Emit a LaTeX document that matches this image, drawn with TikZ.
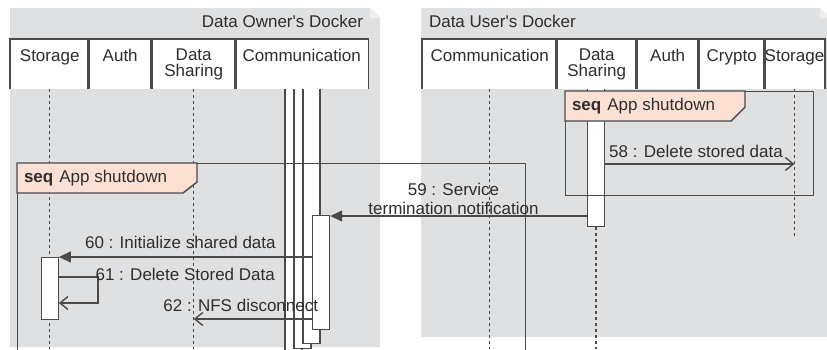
\documentclass[tikz,border=0pt]{standalone}
\usepackage{fontspec}
\setmainfont{Liberation Sans}[Ligatures=TeXOff]
\usetikzlibrary{arrows.meta}
\definecolor{dockgray}{HTML}{DFE0E2}
\definecolor{foldgray}{HTML}{EEEEEA}
\definecolor{linegray}{HTML}{4A4A4A}
\definecolor{textgray}{HTML}{2E2E2E}
\definecolor{seqpink}{HTML}{FCE0D4}
\begin{document}
\begin{tikzpicture}[x=1pt, y=-1pt, line width=1.4pt,
    every node/.style={font=\fontsize{17}{19}\selectfont, text=textgray},
    head/.style={fill=white, anchor=north west, inner sep=0pt, minimum height=49pt,
      text height=22pt, text depth=27pt, align=center, font=\fontsize{17}{16}\selectfont},
    head2/.style={head, text height=37pt, text depth=12pt},
    bar/.style={draw=linegray, fill=white, anchor=north, inner sep=0pt, minimum width=17pt},
    lifeline/.style={draw=linegray, dash pattern=on 3pt off 3pt},
    seqframe/.style={draw=linegray, anchor=north west, inner sep=0pt},
    tab/.style={draw=linegray, fill=seqpink},
    sync/.style={draw=linegray, -{Triangle[length=12pt,width=11pt]}},
    reply/.style={draw=linegray, -{Straight Barb[length=8pt,width=13pt]}}]
  \useasboundingbox (0,0) rectangle (827,349);
  \clip (0,0) rectangle (827,349);
  % the two dockers
  \fill[dockgray] (10,8) -- (370,8) -- (380,18) -- (380,347) -- (10,347) -- cycle;
  \fill[foldgray] (370,8) -- (380,18) -- (370,18) -- cycle;
  \fill[dockgray] (421,8) -- (820,8) -- (830,18) -- (830,337) -- (421,337) -- cycle;
  \fill[foldgray] (820,8) -- (830,18) -- (820,18) -- cycle;
  \node[anchor=east] (otitle) at (367,21) {Data Owner's Docker};
  \node[anchor=west] (rtitle) at (425,21) {Data User's Docker};
  % activation bars that start above the heads
  \node[bar, minimum height=300pt] (ocb1) at (293.5,70) {};
  \node[bar, minimum height=278pt] (ocb2) at (302.5,70) {};
  \node[bar, minimum height=273pt] (ocb3) at (311.5,70) {};
  \node[bar, minimum height=156pt] (rsb) at (596,70) {};
  % lifeline heads
  \node[head, minimum width=78pt] (ostor) at (10,39) {Storage};
  \node[head, minimum width=63pt] (oauth) at (88,39) {Auth};
  \node[head2, minimum width=84pt] (oshare) at (151,39) {Data\\Sharing};
  \node[head, minimum width=132pt] (ocomm) at (235,39) {Communication};
  \node[head, minimum width=134pt] (rcomm) at (422,39) {Communication};
  \node[head2, minimum width=80pt] (rshare) at (556,39) {Data\\Sharing};
  \node[head, minimum width=62pt] (rauth) at (636,39) {Auth};
  \node[head, minimum width=66pt] (rcrypt) at (698,39) {Crypto};
  \node[head, minimum width=59pt] (rstor) at (764,39) {Storage};
  \foreach \h in {ostor,oauth,oshare,ocomm,rcomm,rshare,rauth,rcrypt,rstor}
    \draw[linegray] (\h.south west) |- (\h.north east) -- (\h.south east);
  % lifelines
  \coordinate (floor) at (0,349);
  \coordinate (rfloor) at (0,236);
  \draw[lifeline] (ostor.south) -- (ostor.south |- floor);
  \draw[lifeline] (oshare.south) -- (oshare.south |- floor);
  \draw[lifeline] (rcomm.south) -- (rcomm.south |- floor);
  \draw[lifeline] (rsb.south) -- (rsb.south |- floor);
  \draw[lifeline] (rstor.south) -- (rstor.south |- rfloor);
  % seq frames
  \node[seqframe, minimum width=508pt, minimum height=200pt] (oframe) at (17,163) {};
  \node[seqframe, minimum width=248pt, minimum height=104pt] (rframe) at (565,91) {};
  \draw[tab] (oframe.north west) -- ++(180,0) -- ++(0,19) -- ++(-14,11) -- ++(-166,0) -- cycle;
  \draw[tab] (rframe.north west) -- ++(180,0) -- ++(0,16) -- ++(-14,14) -- ++(-166,0) -- cycle;
  \node[anchor=west] (otab) at ([shift={(3,15)}]oframe.north west) {\textbf{seq}\hspace{6pt}App shutdown};
  \node[anchor=west] (rtab) at ([shift={(3,15)}]rframe.north west) {\textbf{seq}\hspace{6pt}App shutdown};
  % activations over the frames
  \node[bar, minimum height=114pt] (ocb4) at (321,215) {};
  \node[bar, minimum height=62pt] (osb) at (ostor.south |- 0,257) {};
  % messages
  \draw[reply] (rsb.east |- 0,164) -- node[anchor=south west, pos=0, yshift=2pt] (m58) {58 : Delete stored data} (rstor.south |- 0,164);
  \draw[sync] (rsb.west |- 0,216) -- node[above, align=center, inner sep=1pt, xshift=-5pt] (m59) {59 : Service\\termination notification} (ocb4.east |- 0,216);
  \draw[sync] (ocb4.west |- 0,257) -- node[above, xshift=-5pt, yshift=4pt] (m60) {60 : Initialize shared data} (osb.east |- 0,257);
  \draw[reply] (osb.east |- 0,277) -- ++(39,0) node[anchor=west, inner sep=0pt, xshift=-3pt, yshift=3pt] (m61) {61 : Delete Stored Data} |- (osb.east |- 0,303);
  \draw[reply] (ocb4.west |- 0,319) -- node[above, xshift=-12pt, yshift=3pt] (m62) {62 : NFS disconnect} (oshare.south |- 0,319);
\end{tikzpicture}
\end{document}
